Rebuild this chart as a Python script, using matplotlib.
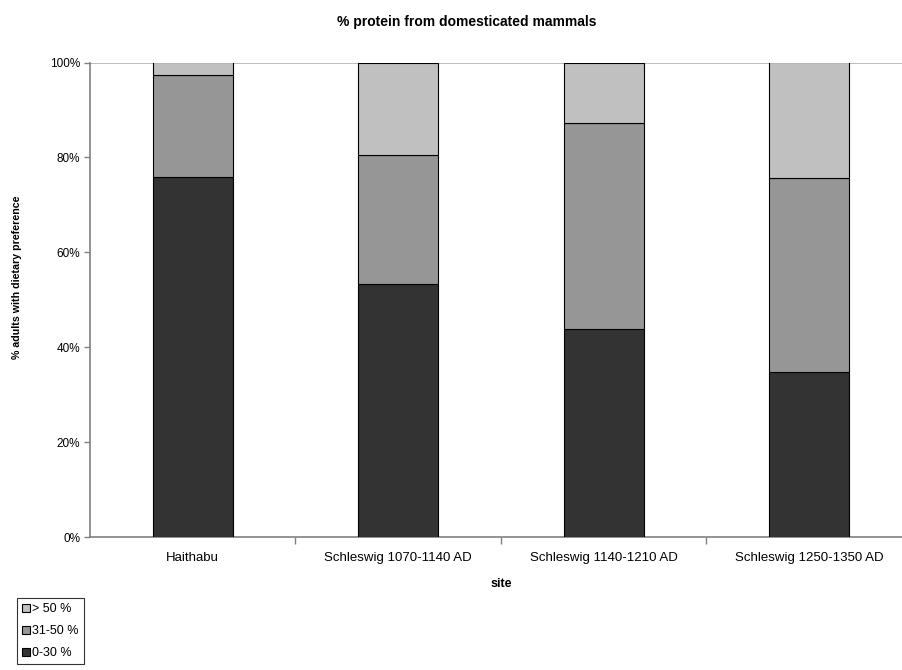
import numpy as np
import matplotlib.pyplot as plt

plt.rcParams['font.family'] = ['Liberation Sans', 'DejaVu Sans']

sites = ['Haithabu', 'Schleswig 1070-1140 AD', 'Schleswig 1140-1210 AD',
         'Schleswig 1250-1350 AD']
# share of adults (%) in each protein class
low = [75.9, 53.3, 43.8, 34.8]      # 0-30 %
mid = [21.5, 27.2, 43.5, 40.9]      # 31-50 %
high = [2.6, 19.5, 12.7, 24.3]      # > 50 %

fig = plt.figure(figsize=(9.03, 6.70), dpi=100)
ax = fig.add_axes([90 / 903, 133 / 670, 822 / 903, 474.5 / 670])

x = np.arange(len(sites))
w = 0.39
low_a = np.array(low) / 100
mid_a = np.array(mid) / 100
high_a = np.array(high) / 100

b1 = ax.bar(x, low_a, w, color='#333333', edgecolor='black', linewidth=0.8,
            label='0-30 %', zorder=3)
b2 = ax.bar(x, mid_a, w, bottom=low_a, color='#969696', edgecolor='black',
            linewidth=0.8, label='31-50 %', zorder=3)
b3 = ax.bar(x, high_a, w, bottom=low_a + mid_a, color='#c0c0c0',
            edgecolor='black', linewidth=0.8, label='> 50 %', zorder=3)

ax.set_xlim(-0.5, len(sites) - 0.5)
ax.set_ylim(0, 1)
ax.set_yticks(np.arange(0, 1.01, 0.2))
ax.set_yticklabels(['{:.0f}%'.format(v * 100) for v in np.arange(0, 1.01, 0.2)],
                   fontsize=8.5)
ax.axhline(1.0, color='#b0b0b0', linewidth=1.2, zorder=1)

ax.set_xticks(x)
ax.set_xticklabels(sites, fontsize=9.5)
ax.tick_params(axis='x', which='major', length=0, pad=11)
ax.set_xticks(np.arange(0.5, len(sites) - 1, 1), minor=True)
ax.tick_params(axis='x', which='minor', length=5, color='#808080', width=1)
ax.tick_params(axis='y', length=4, color='#808080', width=1, pad=3)

for s in ['top', 'right']:
    ax.spines[s].set_visible(False)
for s in ['left', 'bottom']:
    ax.spines[s].set_color('#808080')
    ax.spines[s].set_linewidth(1.2)

ax.set_xlabel('site', fontsize=9, fontweight='bold', labelpad=10)
ax.set_ylabel('% adults with dietary preference', fontsize=7.7,
              fontweight='bold')
ax.yaxis.set_label_coords(-0.083, 0.547)
fig.text(467 / 903, 1 - 22 / 670, '% protein from domesticated mammals',
         ha='center', va='center', fontsize=10, fontweight='bold')

leg = fig.legend(handles=[b3, b2, b1], loc='upper left',
                 bbox_to_anchor=(17 / 903, 1 - 598 / 670), fontsize=9,
                 frameon=True, fancybox=False, edgecolor='black',
                 handlelength=0.6, handleheight=0.6, handletextpad=0.2,
                 borderpad=0.4, labelspacing=0.8, borderaxespad=0)
leg.get_frame().set_linewidth(0.8)

fig.savefig('out.png', dpi=100)
